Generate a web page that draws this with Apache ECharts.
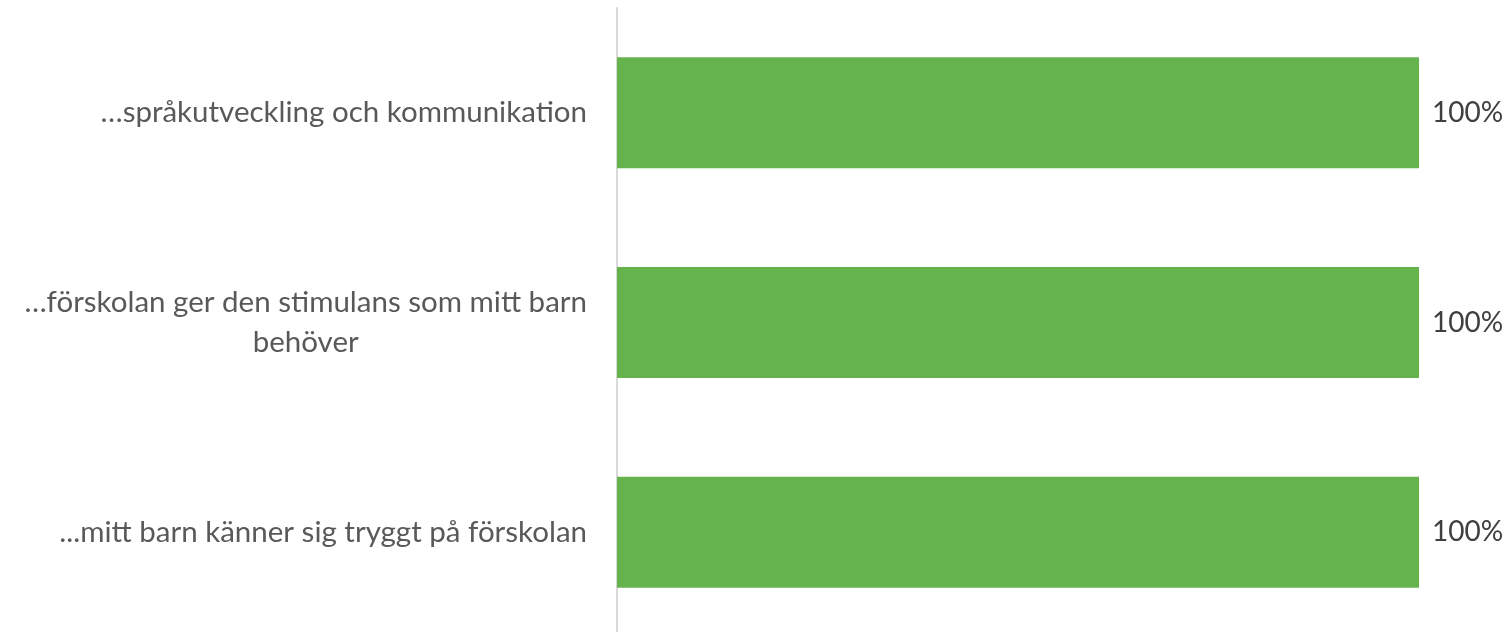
<!DOCTYPE html>
<html>
<head>
<meta charset="utf-8">
<script src="https://cdn.jsdelivr.net/npm/echarts@6/dist/echarts.min.js"></script>
<style>
  html, body { margin: 0; padding: 0; background: #fff; overflow: hidden; }
  /* lite högre än fönstret, axellinjen fortsätter under nederkanten */
  #main { width: 1506px; height: 640px; }
</style>
</head>
<body>
<div id="main"></div>
<script>
// kategorier uppifrån och ned
const categories = [
  '…språkutveckling och kommunikation',
  '…förskolan ger den stimulans som mitt barn behöver',
  '...mitt barn känner sig tryggt på förskolan'
];
// andel som instämmer (1 = 100%)
const values = [1, 1, 1];

// radbryt som i Excel, ungefär 43 tecken per rad
function wrapLabel(text, maxChars) {
  let words = text.split(' ');
  let lines = [];
  let cur = '';
  words.forEach(w => {
    if (cur && (cur + ' ' + w).length > maxChars) {
      lines.push(cur);
      cur = w;
    } else {
      cur = cur ? cur + ' ' + w : w;
    }
  });
  if (cur) lines.push(cur);
  return lines.map(l => '{c|' + l + '}').join('\n');
}

const chart = echarts.init(document.getElementById('main'));
chart.setOption({
  animation: false,
  textStyle: { fontFamily: 'Lato' },
  grid: { left: 617, right: 87, top: 8, bottom: 3, containLabel: false },
  xAxis: {
    type: 'value',
    min: 0,
    max: 1,
    show: false,
    splitLine: { show: false }
  },
  yAxis: {
    type: 'category',
    inverse: true,
    data: categories,
    axisLine: { show: true, lineStyle: { color: '#d9d9d9', width: 2 } },
    axisTick: { show: false },
    axisLabel: {
      margin: 30,
      color: '#595959',
      fontSize: 29.5,
      fontFamily: 'Lato',
      lineHeight: 40,
      align: 'right',
      formatter: v => wrapLabel(v, 43),
      rich: {
        c: { align: 'center', color: '#595959', fontSize: 29.5, fontFamily: 'Lato', lineHeight: 40 }
      }
    }
  },
  series: [{
    type: 'bar',
    data: values,
    barWidth: 111,
    itemStyle: { color: '#64b34c' },
    label: {
      show: true,
      position: 'right',
      distance: 13,
      color: '#404040',
      fontSize: 28,
      fontFamily: 'Lato',
      formatter: p => Math.round(p.value * 100) + '%'
    }
  }]
});
</script>
</body>
</html>
